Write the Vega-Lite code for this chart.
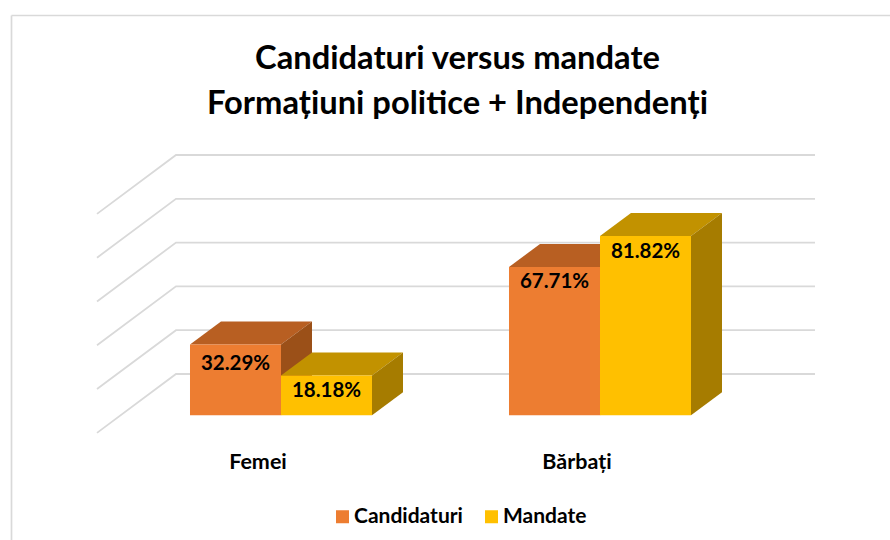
{"$schema":"https://vega.github.io/schema/vega-lite/v6.json","width":879,"height":525,"autosize":"none","padding":{"left":11,"top":15,"right":0,"bottom":0},"background":"white",
"title":{"text":["Candidaturi versus mandate","Formațiuni politice + Independenți"],"font":"Lato","fontWeight":"bold","fontSize":32.7,"lineHeight":45,"color":"#000000","anchor":"middle","frame":"group","dx":7,"offset":-105.5},
"config":{"view":{"stroke":null},"axis":{"domainColor":"#d9d9d9","domainWidth":1.7,"labels":false,"ticks":false,"grid":false,"title":null}},
"data":{"values":[{"categorie":"Femei","serie":"Candidaturi","valoare":32.29},{"categorie":"Femei","serie":"Mandate","valoare":18.18},{"categorie":"Bărbați","serie":"Candidaturi","valoare":67.71},{"categorie":"Bărbați","serie":"Mandate","valoare":81.82}]},
"transform":[
{"calculate":"[0,1]","as":"d"},{"flatten":["d"]},
{"calculate":"(datum.categorie==='Femei'?0:1)+(datum.serie==='Mandate'?0:-0.28527)","as":"xL"},
{"calculate":"datum.xL+0.28527","as":"xR"},
{"calculate":"datum.xL+0.14263","as":"xM"},
{"calculate":"datum.xL+datum.d*0.09718","as":"xTopL"},
{"calculate":"datum.xR+datum.d*0.09718","as":"xTopR"},
{"calculate":"datum.valoare+datum.d*10.5","as":"yTop"},
{"calculate":"datum.d*10.5","as":"yBase"},
{"calculate":"datum.categorie==='Femei'?-0.0721:0.9279","as":"xCat"},
{"calculate":"format(datum.valoare,'.2f')+'%'","as":"eticheta"}
],
"layer":[
{"data":{"values":[{"reper":0},{"reper":20},{"reper":40},{"reper":60},{"reper":80},{"reper":100}]},
"transform":[{"calculate":"[0,1,2]","as":"p"},{"flatten":["p"]},
{"calculate":"datum.p===0?-0.5768:(datum.p===1?-0.32915:1.67398)","as":"gx"},
{"calculate":"datum.reper+(datum.p===0?-8.04:18.86)","as":"gy"}],
"mark":{"type":"line","color":"#d9d9d9","strokeWidth":1.8,"interpolate":"linear"},
"encoding":{"x":{"field":"gx","type":"quantitative","scale":{"domain":[-0.84639,1.90909],"nice":false,"zero":false},"axis":{"orient":"top"}},"y":{"field":"gy","type":"quantitative","scale":{"domain":[-56.95,182.78],"nice":false,"zero":false}},"detail":{"field":"reper"},"order":{"field":"p"}}},
{"transform":[{"filter":"datum.serie==='Candidaturi'"}],"mark":{"type":"area","orient":"horizontal","color":"#B85F22"},
"encoding":{"y":{"field":"yTop","type":"quantitative","stack":null},"x":{"field":"xTopL","type":"quantitative","axis":{"orient":"top"}},"x2":{"field":"xTopR"},"detail":{"field":"categorie"}}},
{"transform":[{"filter":"datum.serie==='Candidaturi'"}],"mark":{"type":"area","orient":"vertical","color":"#9B5018"},
"encoding":{"x":{"field":"xTopR","type":"quantitative","axis":{"orient":"top"}},"y":{"field":"yTop","type":"quantitative","stack":null},"y2":{"field":"yBase"},"detail":{"field":"categorie"}}},
{"transform":[{"filter":"datum.serie==='Mandate'"}],"mark":{"type":"area","orient":"horizontal","color":"#C29200"},
"encoding":{"y":{"field":"yTop","type":"quantitative","stack":null},"x":{"field":"xTopL","type":"quantitative","axis":{"orient":"top"}},"x2":{"field":"xTopR"},"detail":{"field":"categorie"}}},
{"transform":[{"filter":"datum.serie==='Mandate'"}],"mark":{"type":"area","orient":"vertical","color":"#A67C00"},
"encoding":{"x":{"field":"xTopR","type":"quantitative","axis":{"orient":"top"}},"y":{"field":"yTop","type":"quantitative","stack":null},"y2":{"field":"yBase"},"detail":{"field":"categorie"}}},
{"transform":[{"filter":"datum.d===0"}],"mark":{"type":"rect"},
"encoding":{"x":{"field":"xL","type":"quantitative","axis":{"orient":"top"}},"x2":{"field":"xR"},"y":{"field":"valoare","type":"quantitative"},"y2":{"datum":0},
"color":{"field":"serie","type":"nominal","scale":{"domain":["Candidaturi","Mandate"],"range":["#ED7D31","#FFC000"]},"legend":{"title":null,"orient":"none","legendX":321,"legendY":491,"direction":"horizontal","columns":2,"symbolType":"square","symbolSize":169,"symbolStrokeWidth":0,"labelFont":"Lato","labelFontWeight":"bold","labelFontSize":21,"labelColor":"#000000","labelOffset":1,"columnPadding":18}}}},
{"transform":[{"filter":"datum.d===0 && !(datum.categorie==='Femei' && datum.serie==='Candidaturi')"}],"mark":{"type":"text","font":"Lato","fontWeight":"bold","fontSize":20.5,"color":"#000000","dy":15.5,"baseline":"middle"},
"encoding":{"x":{"field":"xM","type":"quantitative","axis":{"orient":"top"}},"y":{"field":"valoare","type":"quantitative"},"text":{"field":"eticheta"}}},
{"transform":[{"filter":"datum.d===0 && datum.categorie==='Femei' && datum.serie==='Candidaturi'"}],"mark":{"type":"text","font":"Lato","fontWeight":"bold","fontSize":20.5,"color":"#000000","dy":19,"baseline":"middle"},
"encoding":{"x":{"field":"xM","type":"quantitative","axis":{"orient":"top"}},"y":{"field":"valoare","type":"quantitative"},"text":{"field":"eticheta"}}},
{"transform":[{"filter":"datum.d===0 && datum.serie==='Candidaturi'"}],"mark":{"type":"text","font":"Lato","fontWeight":"bold","fontSize":21.5,"color":"#000000","baseline":"middle"},
"encoding":{"x":{"field":"xCat","type":"quantitative","axis":{"orient":"top"}},"y":{"datum":-21.8},"text":{"field":"categorie"}}}
]}
